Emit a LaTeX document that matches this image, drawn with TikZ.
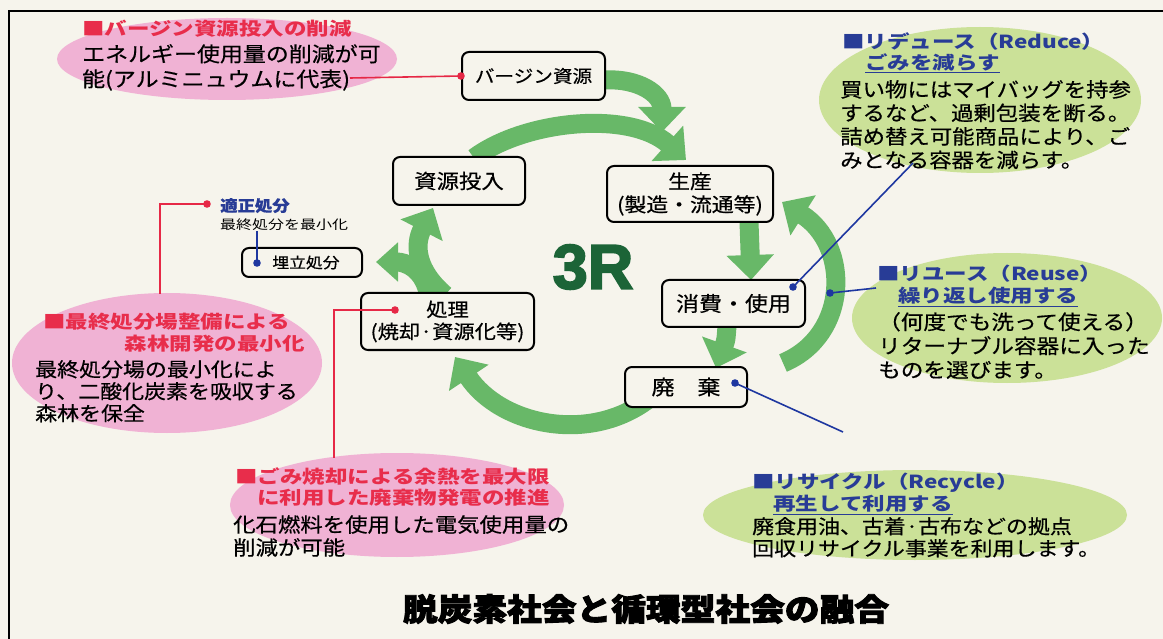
\documentclass[tikz,border=0pt]{standalone}
\usepackage{fontspec}
\setmainfont{Noto Sans CJK JP}
\newfontfamily\bodyf[FakeStretch=1.12,FakeBold=0.5]{Noto Sans CJK JP}
\newfontfamily\titlef[FakeStretch=1.25]{Noto Sans CJK JP}
\newfontfamily\heavyf[FakeStretch=1.12,BoldFeatures={FakeBold=3}]{Noto Sans CJK JP}
\newfontfamily\rfont[BoldFeatures={FakeBold=3}]{Liberation Sans}
\usetikzlibrary{arrows.meta}
\definecolor{bg}{RGB}{246,244,236}
\definecolor{pinkfill}{RGB}{240,178,212}
\definecolor{greenfill}{RGB}{203,225,152}
\definecolor{agreen}{RGB}{104,184,104}
\definecolor{rgreen}{RGB}{28,100,55}
\definecolor{tred}{RGB}{232,45,75}
\definecolor{tblue}{RGB}{40,60,150}
\definecolor{lred}{RGB}{230,40,70}
\definecolor{lblue}{RGB}{30,55,160}
\begin{document}
\begin{tikzpicture}[x=1pt,y=-1pt,
  garrow/.style={draw=agreen,line width=19pt,-{Triangle[width=46pt,length=25pt]}},
  box/.style={draw=black,line width=2pt,rounded corners=7pt,fill=bg,inner sep=0pt,align=center},
  ttl/.style={inner sep=0pt,font=\titlef\bfseries\fontsize{18}{22}\selectfont},
  bdy/.style={inner sep=0pt,align=left},
  redline/.style={draw=lred,line width=1.6pt},
  blueline/.style={draw=lblue,line width=1.6pt},
  rdot/.style={fill=lred},
  bdot/.style={fill=lblue}]
\useasboundingbox (0,0) rectangle (1163,639);
\fill[bg] (0,0) rectangle (1163,639);
\draw[line width=2pt] (9,639) -- (9,11) -- (1163,11);

% ellipses
\fill[pinkfill] (227,59) ellipse [x radius=170, y radius=41];
\fill[pinkfill] (167,363) ellipse [x radius=155, y radius=70];
\fill[pinkfill] (397,505) ellipse [x radius=167, y radius=52];
\fill[greenfill] (980,100) ellipse [x radius=161, y radius=73];
\fill[greenfill] (1007,318) ellipse [x radius=155, y radius=65];
\fill[greenfill] (915,515) ellipse [x radius=212, y radius=45];

% arrow coordinates
\coordinate (a1s) at (604,80);
\coordinate (a1e) at (662,132);
\coordinate (a2s) at (474,158);
\coordinate (a2e) at (686,160);
\coordinate (a3s) at (749,222);
\coordinate (a3e) at (751,280);
\coordinate (a4s) at (727,326);
\coordinate (a4e) at (716,368);
\coordinate (a5s) at (783,363);
\coordinate (a5e) at (782,202);
\coordinate (a6s) at (650,398);
\coordinate (a6e) at (455,357);
\coordinate (a7s) at (445,295);
\coordinate (a7e) at (433,208);
\coordinate (a8s) at (428,292);
\coordinate (a8e) at (376,262);

\draw[garrow] (a1s) .. controls (640,78) and (662,95) .. (a1e);
\draw[garrow] (a2s) .. controls (525,120) and (630,110) .. (a2e);
\draw[garrow] (a3s) .. controls (750,250) .. (a3e);
\draw[garrow] (a4s) .. controls (726,340) .. (a4e);
\draw[garrow] (a5s) .. controls (850,335) and (850,245) .. (a5e);
\draw[garrow] (a6s) .. controls (590,445) and (500,425) .. (a6e);
\draw[garrow] (a7s) .. controls (416,270) and (414,245) .. (a7e);
\draw[draw=agreen,line width=19pt,-{Triangle[width=38pt,length=22pt]}] (a8s) .. controls (422,268) and (405,262) .. (a8e);

% boxes
\node[box,minimum width=143pt,minimum height=48pt,font=\bodyf\fontsize{17.5}{21}\selectfont] (virgin) at (533.5,76) {バージン資源};
\node[box,minimum width=132pt,minimum height=48pt,font=\bodyf\fontsize{20}{24}\selectfont] (toonyu) at (459,181) {資源投入};
\node[box,minimum width=166pt,minimum height=56pt,font=\bodyf\fontsize{19.5}{23}\selectfont] (seisan) at (690,194) {生産\\(製造・流通等)};
\node[box,minimum width=143pt,minimum height=47pt,font=\bodyf\fontsize{20.5}{24}\selectfont] (shohi) at (733.5,303.5) {消費・使用};
\node[box,minimum width=122pt,minimum height=40pt,font=\bodyf\fontsize{20.5}{24}\selectfont] (haiki) at (686,387) {廃　棄};
\node[box,minimum width=173pt,minimum height=57pt,font=\bodyf\fontsize{19}{22}\selectfont] (shori) at (447.5,321.5) {処理\\(焼却·資源化等)};
\node[box,minimum width=120pt,minimum height=29pt,font=\bodyf\fontsize{15}{18}\selectfont] (umetate) at (302,262.5) {\hspace*{8pt}埋立処分};

% 3R and title
\node[inner sep=0pt,text=rgreen,font=\rfont\bfseries\fontsize{63}{63}\selectfont] (r3) at (593,267) {3R};
\node[inner sep=0pt,font=\heavyf\bfseries\fontsize{31}{31}\selectfont] (title) at (646,609) {脱炭素社会と循環型社会の融合};

% texts: pink 1
\node[ttl,anchor=north west,text=tred] (p1title) at (82,20) {■バージン資源投入の削減};
\node[bdy,anchor=north west,font=\bodyf\fontsize{20.5}{25}\selectfont] (p1body) at (82,44) {エネルギー使用量の削減が可\\能(アルミニュウムに代表)};

% pink 2
\node[ttl,anchor=north west,text=tred] (p2t1) at (43,313) {■最終処分場整備による};
\node[ttl,anchor=north east,text=tred] (p2t2) at (305,335) {森林開発の最小化};
\node[bdy,anchor=north west,font=\bodyf\fontsize{19.6}{22}\selectfont] (p2body) at (35,360) {最終処分場の最小化によ\\り、二酸化炭素を吸収する\\森林を保全};

% pink 3
\node[ttl,anchor=north east,text=tred] (p3t1) at (550,467) {■ごみ焼却による余熱を最大限};
\node[ttl,anchor=north east,text=tred] (p3t2) at (550,489) {に利用した廃棄物発電の推進};
\node[bdy,anchor=north west,font=\bodyf\fontsize{20}{23}\selectfont] (p3body) at (233,515) {化石燃料を使用した電気使用量の\\削減が可能};

% reduce
\node[ttl,anchor=north west,text=tblue] (rdt) at (842,32) {■リデュース（Reduce）};
\node[ttl,anchor=north west,text=tblue] (rds) at (865,53) {\underline{ごみを減らす}};
\node[bdy,anchor=north west,font=\bodyf\fontsize{20}{23.5}\selectfont] (rdb) at (840,80) {買い物にはマイバッグを持参\\するなど、過剰包装を断る。\\詰め替え可能商品により、ご\\みとなる容器を減らす。};

% reuse
\node[ttl,anchor=north west,text=tblue] (rut) at (877,265) {■リユース（Reuse）};
\node[ttl,anchor=north west,text=tblue] (rus) at (898,287) {\underline{繰り返し使用する}};
\node[bdy,anchor=north west,font=\bodyf\fontsize{20.2}{24}\selectfont] (rub) at (878,312) {（何度でも洗って使える）\\リターナブル容器に入った\\ものを選びます。};

% recycle
\node[ttl,anchor=north west,text=tblue] (rct) at (752,473) {■リサイクル（Recycle）};
\node[ttl,anchor=north west,text=tblue] (rcs) at (773,495) {\underline{再生して利用する}};
\node[bdy,anchor=north west,font=\bodyf\fontsize{19.6}{22}\selectfont] (rcb) at (752,517) {廃食用油、古着·古布などの拠点\\回収リサイクル事業を利用します。};

% small labels
\node[inner sep=0pt,anchor=north west,text=tblue,font=\bodyf\bfseries\fontsize{15.5}{18}\selectfont] (tekisei) at (220,198) {適正処分};
\node[inner sep=0pt,anchor=north west,font=\titlef\fontsize{12.8}{15}\selectfont] (saishou) at (220,219) {最終処分を最小化};

% leader lines
\coordinate (p1end) at (350,78);
\draw[redline] (p1end) -- (virgin.west);
\fill[rdot] (virgin.west) circle [radius=3.8pt];

\coordinate (p2top) at (160,294);
\coordinate (dTek) at (207,204);
\draw[redline] (p2top) |- (dTek);
\fill[rdot] (dTek) circle [radius=3.8pt];

\coordinate (dUme) at (257,263);
\draw[blueline] (saishou.south -| dUme) -- (dUme);
\fill[bdot] (dUme) circle [radius=3.8pt];

\coordinate (dShori) at (395,310);
\coordinate (p3top) at (334,458);
\draw[redline] (dShori) -| (p3top);
\fill[rdot] (dShori) circle [radius=3.8pt];

\coordinate (dShohi) at (793,287);
\coordinate (rdEnd) at (913,163);
\draw[blueline] (dShohi) -- (rdEnd);
\fill[bdot] (dShohi) circle [radius=3.8pt];

\coordinate (dReuse) at (830,293);
\coordinate (ruEnd) at (876,288);
\draw[blueline] (dReuse) -- (ruEnd);
\fill[bdot] (dReuse) circle [radius=3.8pt];

\coordinate (dHaiki) at (735,383);
\coordinate (rcEnd) at (843,432);
\draw[blueline] (dHaiki) -- (rcEnd);
\fill[bdot] (dHaiki) circle [radius=3.8pt];
\end{tikzpicture}
\end{document}
